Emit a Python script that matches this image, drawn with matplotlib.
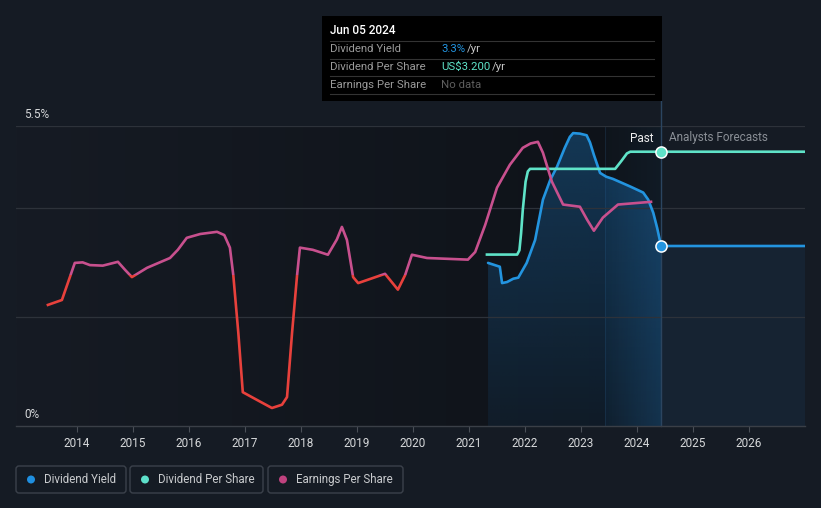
import numpy as np
import matplotlib
matplotlib.use('Agg')
import matplotlib.pyplot as plt
from matplotlib.patches import Rectangle, FancyBboxPatch, Circle
from matplotlib.lines import Line2D
from matplotlib.transforms import IdentityTransform
from matplotlib.colors import to_rgb

plt.rcParams['font.family'] = ['Roboto', 'DejaVu Sans']

# ---------------- data (decimal years) ----------------
years_ticks = list(range(2014, 2027))
tick_labels = [str(y) for y in years_ticks]

# Dividend yield (%)
yield_x = [2021.34, 2021.55, 2021.59, 2021.68, 2021.79, 2021.88, 2022.03, 2022.18,
           2022.32, 2022.45, 2022.57, 2022.71, 2022.80, 2022.86, 2022.98, 2023.10, 2023.16,
           2023.23, 2023.34, 2023.45, 2023.57, 2023.88, 2024.11, 2024.20, 2024.29,
           2024.36, 2024.43, 2027.00]
yield_v = [2.99, 2.92, 2.62, 2.64, 2.70, 2.72, 2.99, 3.41,
           4.15, 4.51, 4.75, 5.10, 5.30, 5.37, 5.36, 5.33, 5.20,
           4.97, 4.64, 4.57, 4.53, 4.39, 4.28, 4.15, 3.91,
           3.63, 3.30, 3.30]

# Dividend per share (US$)
dps_x = [2021.32, 2021.86, 2021.90, 2021.93, 2021.96, 2022.01, 2022.05, 2022.09,
         2023.61, 2023.73, 2023.82, 2023.88, 2024.43, 2027.00]
dps_v = [2.00, 2.00, 2.05, 2.25, 2.52, 2.85, 2.97, 3.00,
         3.00, 3.10, 3.18, 3.20, 3.20, 3.20]

# Earnings per share (relative units)
eps_x = [2013.48, 2013.73, 2013.96, 2014.10, 2014.23, 2014.46, 2014.73, 2014.86, 2014.98,
         2015.25, 2015.66, 2015.80, 2015.96, 2016.20, 2016.50, 2016.63, 2016.73,
         2016.79, 2016.88, 2016.96, 2017.21, 2017.48, 2017.66, 2017.75, 2017.84,
         2017.93, 2017.98, 2018.21, 2018.48, 2018.64, 2018.73, 2018.82, 2018.93, 2019.02,
         2019.50, 2019.73, 2019.86, 2019.98, 2020.25, 2020.98, 2021.11, 2021.29,
         2021.50, 2021.73, 2021.96, 2022.10, 2022.23, 2022.32, 2022.48, 2022.68, 2022.98,
         2023.11, 2023.23, 2023.39, 2023.66, 2024.25]
eps_v = [2.22, 2.31, 2.99, 3.00, 2.95, 2.94, 3.01, 2.86, 2.73,
         2.90, 3.08, 3.23, 3.45, 3.52, 3.56, 3.50, 3.27,
         2.77, 1.71, 0.62, 0.48, 0.33, 0.39, 0.53, 1.71,
         2.77, 3.27, 3.23, 3.14, 3.42, 3.65, 3.41, 2.73, 2.62,
         2.79, 2.50, 2.77, 3.14, 3.08, 3.05, 3.19, 3.69,
         4.37, 4.79, 5.10, 5.18, 5.21, 5.01, 4.48, 4.06, 4.02,
         3.78, 3.58, 3.82, 4.06, 4.11]
eps_threshold = 2.77

now = 2024.43
x_min, x_max = 2012.91, 2027.0
y_max = 5.5
dps_max = 3.5
eps_max = 5.5

# ---------------- styling ----------------
W, H = 821, 508
BG = '#151b24'
BLUE = '#2394df'
TEAL = '#5fe3c8'
PINK = '#c8508e'
RED = '#e8413c'

fig = plt.figure(figsize=(W / 100, H / 100), dpi=100, facecolor=BG)

def fx(px):
    return px / W

def fy(py):
    return 1 - py / H

ax = fig.add_axes([fx(16), fy(426), (805 - 16) / W, 300 / H])
ax.set_facecolor(BG)

# past background gradient (darkening to the right)
n = 256
t = np.linspace(0, 1, n)
c0 = np.array(to_rgb('#161b24'))
c1 = np.array(to_rgb('#0e1218'))
img = c0[None, :] * (1 - t[:, None]) + c1[None, :] * t[:, None]
ax.imshow(img[None, :, :], extent=[x_min, now, 0, y_max], aspect='auto',
          zorder=0, interpolation='bilinear')

# highlight band (last year), full height
band = np.zeros((1, n, 4))
band[..., 0:3] = to_rgb('#2a6aa0')
band[..., 3] = 0.03 + 0.07 * t
ax.imshow(band, extent=[now - 1, now, 0, y_max], aspect='auto', zorder=0.5,
          interpolation='bilinear')

# fill under past yield
yx = np.array(yield_x)
yv = np.array(yield_v)
past = yx <= now + 1e-9
poly = ax.fill_between(yx[past], yv[past], 0, color='none', lw=0)
clip_path = poly.get_paths()[0]

grad = np.zeros((n, 1, 4))
grad[..., 0:3] = to_rgb('#1a6aaa')
grad[:, 0, 3] = 0.10 + 0.32 * t
im1 = ax.imshow(grad, extent=[yx[0], now, 0, y_max], origin='lower', aspect='auto',
                zorder=1, interpolation='bilinear')
im1.set_clip_path(clip_path, transform=ax.transData)

hb = np.zeros((1, n, 4))
hb[..., 0:3] = to_rgb('#1f6fb0')
hb[..., 3] = 0.04 + 0.18 * t
im2 = ax.imshow(hb, extent=[now - 1, now, 0, y_max], aspect='auto', zorder=1.2,
                interpolation='bilinear')
im2.set_clip_path(clip_path, transform=ax.transData)

# forecast fill
fut = yx >= now - 1e-9
ax.fill_between(yx[fut], yv[fut], 0, color='#1f6aa8', alpha=0.11, lw=0, zorder=1)

# grid lines
for gy in [2, 4, 5.5]:
    ax.axhline(gy, color='#2d323a', lw=0.9, zorder=1.5)

# vertical "now" line
ax.axvline(now, ymin=0, ymax=(426 - 101) / 300, color='#2b4560', lw=1.0,
           zorder=1.6, clip_on=False)
ax.axvline(now - 1, color='#1c3248', lw=0.7, zorder=0.6, alpha=0.6)

# yield line
ax.plot(yx, yv, color=BLUE, lw=1.9, zorder=3, solid_capstyle='round',
        solid_joinstyle='round')
ax.plot([now], [yield_v[yield_x.index(now)]], 'o', ms=8, mfc=BLUE, mec='white',
        mew=1.1, zorder=6, clip_on=False)

ax.set_xlim(x_min, x_max)
ax.set_ylim(0, y_max)
for s in ['top', 'right', 'left']:
    ax.spines[s].set_visible(False)
ax.spines['bottom'].set_color('#3a3f47')
ax.spines['bottom'].set_linewidth(1.0)
ax.set_yticks([])
ax.set_xticks(years_ticks)
ax.set_xticklabels(tick_labels)
ax.tick_params(axis='x', colors='#4a4f57', length=4, width=0.8, pad=4,
               labelcolor='#d6d8da', labelsize=8.5)

# DPS axis
ax_d = ax.twinx()
ax_d.set_ylim(0, dps_max)
ax_d.set_xlim(x_min, x_max)
ax_d.axis('off')
ax_d.plot(dps_x, dps_v, color=TEAL, lw=1.9, zorder=3, solid_joinstyle='round')
ax_d.plot([now], [3.2], 'o', ms=8, mfc=TEAL, mec='white', mew=1.1, zorder=6,
          clip_on=False)

# EPS axis
ax_e = ax.twinx()
ax_e.set_ylim(0, eps_max)
ax_e.set_xlim(x_min, x_max)
ax_e.axis('off')
l_hi, = ax_e.plot(eps_x, eps_v, color=PINK, lw=1.9, zorder=3, solid_joinstyle='round')
l_lo, = ax_e.plot(eps_x, eps_v, color=RED, lw=1.9, zorder=3, solid_joinstyle='round')
r_hi = Rectangle((x_min, eps_threshold), x_max - x_min, 100, transform=ax_e.transData)
r_lo = Rectangle((x_min, -100), x_max - x_min, 100 + eps_threshold, transform=ax_e.transData)
l_hi.set_clip_path(r_hi)
l_lo.set_clip_path(r_lo)

# y labels
fig.text(fx(24), fy(114), '5.5%', color='#d6d8da', fontsize=8.5, va='center', ha='left')
fig.text(fx(24), fy(414), '0%', color='#d6d8da', fontsize=8.5, va='center', ha='left')

# Past / Analysts Forecasts
fig.text(fx(653), fy(138), 'Past', color='#eeeeee', fontsize=8.5, va='center', ha='right')
fig.text(fx(669), fy(138), 'Analysts Forecasts', color='#8a8f96', fontsize=8.5,
         va='center', ha='left')

# tooltip
tip = Rectangle((fx(322), fy(101)), (662 - 322) / W, (101 - 16) / H,
                transform=fig.transFigure, facecolor='black', edgecolor='none', zorder=20)
fig.add_artist(tip)
fig.text(fx(330), fy(31), 'Jun 05 2024', color='white', fontsize=8.5, va='center',
         ha='left', zorder=21, fontweight='medium')
for sy in [41, 58.5, 76, 93.5]:
    fig.add_artist(Line2D([fx(330), fx(654)], [fy(sy), fy(sy)], transform=fig.transFigure,
                          color='#333333', lw=0.8, zorder=21))
rows = [(49.5, 'Dividend Yield', '3.3%', BLUE, 467),
        (66.5, 'Dividend Per Share', 'US$3.200', TEAL, 492),
        (84.5, 'Earnings Per Share', None, None, None)]
for ry, lab, val, col, px in rows:
    fig.text(fx(330), fy(ry), lab, color='#9a9a9a', fontsize=8.2, va='center', ha='left', zorder=21)
    if val is None:
        fig.text(fx(441), fy(ry), 'No data', color='#5e5e5e', fontsize=8.2, va='center',
                 ha='left', zorder=21)
    else:
        fig.text(fx(441), fy(ry), val, color=col, fontsize=8.2, va='center', ha='left', zorder=21)
        fig.text(fx(px), fy(ry), '/yr', color='#c8c8c8', fontsize=8.2, va='center',
                 ha='left', zorder=21)

# legend
legend_items = [('Dividend Yield', '#1f8fe0', 16, 126),
                ('Dividend Per Share', '#5ddfca', 130, 263),
                ('Earnings Per Share', '#c0427f', 268, 403)]
for lab, col, x0, x1 in legend_items:
    box = FancyBboxPatch((x0, H - 493), x1 - x0, 27, boxstyle='round,pad=0,rounding_size=3',
                         transform=IdentityTransform(), facecolor='none',
                         edgecolor='#3b414b', lw=1.0)
    fig.add_artist(box)
    fig.add_artist(Circle((x0 + 15, H - 479.5), 4, transform=IdentityTransform(),
                          facecolor=col, edgecolor='none'))
    fig.text(fx(x0 + 28), fy(479.5), lab, color='#c9cbce', fontsize=8.3, va='center', ha='left')

fig.savefig('out.png', dpi=100, facecolor=BG)
